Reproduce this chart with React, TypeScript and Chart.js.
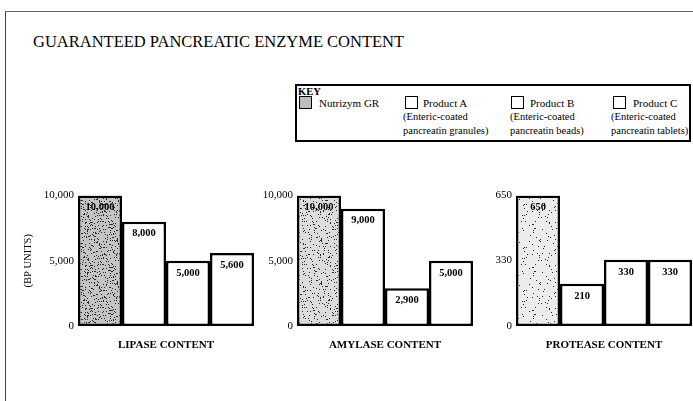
import React, { useEffect, useRef } from "react";
import { Chart, registerables } from "chart.js";

Chart.register(...registerables);

const chartTitle = "GUARANTEED PANCREATIC ENZYME CONTENT";
const products = ["Nutrizym GR", "Product A", "Product B", "Product C"];
const productNotes = [
  [],
  ["(Enteric-coated", "pancreatin granules)"],
  ["(Enteric-coated", "pancreatin beads)"],
  ["(Enteric-coated", "pancreatin tablets)"],
];
const lipaseValues = [10000, 8000, 5000, 5600];
const amylaseValues = [10000, 9000, 2900, 5000];
const proteaseValues = [650, 210, 330, 330];
const lipaseTicks = [0, 5000, 10000];
const amylaseTicks = [0, 5000, 10000];
const proteaseTicks = [0, 330, 650];
const panelTitles = ["LIPASE CONTENT", "AMYLASE CONTENT", "PROTEASE CONTENT"];
const yAxisTitle = "(BP UNITS)";

const FONT = "'Liberation Serif', 'DejaVu Serif', serif";

function makeStipple(base: string, dots: number): CanvasPattern | string {
  const c = document.createElement("canvas");
  c.width = 41;
  c.height = 43;
  const g = c.getContext("2d");
  if (!g) return base;
  g.fillStyle = base;
  g.fillRect(0, 0, 41, 43);
  g.fillStyle = "#2a2a2a";
  for (let i = 0; i < dots; i++) {
    const x = (i * 17 + ((i * i) % 13)) % 41;
    const y = (i * 29 + ((i * i * 7) % 11)) % 43;
    g.fillRect(x, y, 1, 1);
  }
  return g.createPattern(c, "repeat") || base;
}

const valueLabels = {
  id: "valueLabels",
  afterDatasetsDraw(chart: any) {
    const ctx = chart.ctx;
    const meta = chart.getDatasetMeta(0);
    const data = chart.data.datasets[0].data;
    ctx.save();
    ctx.font = `bold 10.5px ${FONT}`;
    ctx.fillStyle = "#000";
    ctx.textAlign = "center";
    ctx.textBaseline = "middle";
    meta.data.forEach((el: any, i: number) => {
      ctx.fillText(Number(data[i]).toLocaleString("en-US"), el.x, el.y + 12);
    });
    ctx.restore();
  },
};

type PanelProps = {
  values: number[];
  ticks: number[];
  title: string;
  left: number;
  yWidth: number;
  showYTitle: boolean;
  stippleBase: string;
  stippleDots: number;
};

const TOP = 185;
const HEIGHT = 171;
const AREA_W = 176;

function Panel(p: PanelProps) {
  const ref = useRef<HTMLCanvasElement | null>(null);
  const width = p.yWidth + AREA_W + 1;
  useEffect(() => {
    if (!ref.current) return;
    const pattern = makeStipple(p.stippleBase, p.stippleDots);
    const max = p.ticks[p.ticks.length - 1];
    const chart = new Chart(ref.current, {
      type: "bar",
      data: {
        labels: products,
        datasets: [
          {
            data: p.values,
            backgroundColor: p.values.map((_, i) => (i === 0 ? pattern : "#ffffff")),
            borderColor: "#000",
            borderWidth: 2.5,
            borderSkipped: false,
            inflateAmount: 0,
            categoryPercentage: 1,
            barPercentage: 1,
          } as any,
        ],
      },
      options: {
        responsive: false,
        animation: false,
        layout: { padding: { top: 10, right: 1, left: 0, bottom: 0 } },
        plugins: { legend: { display: false }, tooltip: { enabled: false } },
        scales: {
          x: {
            grid: { display: false },
            border: { display: false },
            ticks: { display: false },
            title: {
              display: true,
              text: p.title,
              color: "#000",
              font: { family: FONT, size: 11, weight: "bold" },
              padding: { top: 0, bottom: 4 },
            },
            afterFit: (s: any) => {
              s.height = 30;
            },
          },
          y: {
            min: 0,
            max: max,
            grid: { display: false, drawTicks: false },
            border: { display: false },
            afterBuildTicks: (s: any) => {
              s.ticks = p.ticks.map((v) => ({ value: v }));
            },
            ticks: {
              padding: 4,
              color: "#000",
              font: { family: FONT, size: 11 },
              callback: (v: any) => Number(v).toLocaleString("en-US"),
            },
            title: {
              display: p.showYTitle,
              text: yAxisTitle,
              color: "#000",
              font: { family: FONT, size: 10.5 },
              padding: { top: 10, bottom: 0 },
            },
            afterFit: (s: any) => {
              s.width = p.yWidth;
            },
          },
        },
      },
      plugins: [valueLabels],
    } as any);
    return () => chart.destroy();
  }, []);
  return (
    <canvas
      ref={ref}
      width={width}
      height={HEIGHT}
      style={{ position: "absolute", left: p.left, top: TOP, width: width, height: HEIGHT }}
    />
  );
}

const swatchLefts = [299, 405, 511, 613];
const labelLefts = [319, 423, 530, 633];
const noteLefts = [0, 403, 510, 611];

function Legend() {
  return (
    <>
      <div
        style={{
          position: "absolute",
          left: 295,
          top: 84,
          width: 396,
          height: 58,
          border: "2px solid #000",
          boxSizing: "border-box",
        }}
      />
      <div
        style={{
          position: "absolute",
          left: 298,
          top: 86,
          font: `bold 10.5px ${FONT}`,
          lineHeight: "11px",
        }}
      >
        KEY
      </div>
      {products.map((name, i) => (
        <React.Fragment key={name}>
          <div
            style={{
              position: "absolute",
              left: swatchLefts[i],
              top: 96,
              width: 13,
              height: 13,
              border: "1.5px solid #000",
              boxSizing: "border-box",
              background: i === 0 ? "#bdbdbd" : "#fff",
            }}
          />
          <div
            style={{
              position: "absolute",
              left: labelLefts[i],
              top: 97,
              font: `11px ${FONT}`,
              lineHeight: "12px",
              whiteSpace: "nowrap",
            }}
          >
            {name}
          </div>
          {productNotes[i].map((line, j) => (
            <div
              key={j}
              style={{
                position: "absolute",
                left: noteLefts[i],
                top: 111 + j * 14,
                font: `10.5px ${FONT}`,
                lineHeight: "12px",
                whiteSpace: "nowrap",
              }}
            >
              {line}
            </div>
          ))}
        </React.Fragment>
      ))}
    </>
  );
}

export default function App() {
  return (
    <div
      style={{
        position: "absolute",
        left: 0,
        top: 0,
        width: 693,
        height: 401,
        overflow: "hidden",
        background: "#fff",
        color: "#000",
      }}
    >
      <div style={{ position: "absolute", left: 5, top: 11, width: 1, height: 390, background: "#444" }} />
      <div style={{ position: "absolute", left: 5, top: 11, width: 688, height: 1, background: "#666" }} />
      <div
        style={{
          position: "absolute",
          left: 33,
          top: 32,
          font: `16.5px ${FONT}`,
          lineHeight: "20px",
          whiteSpace: "nowrap",
        }}
      >
        {chartTitle}
      </div>
      <Legend />
      <Panel
        values={lipaseValues}
        ticks={lipaseTicks}
        title={panelTitles[0]}
        left={12}
        yWidth={66}
        showYTitle={true}
        stippleBase="#c4c4c4"
        stippleDots={260}
      />
      <Panel
        values={amylaseValues}
        ticks={amylaseTicks}
        title={panelTitles[1]}
        left={257}
        yWidth={40}
        showYTitle={false}
        stippleBase="#dcdcdc"
        stippleDots={160}
      />
      <Panel
        values={proteaseValues}
        ticks={proteaseTicks}
        title={panelTitles[2]}
        left={476}
        yWidth={40}
        showYTitle={false}
        stippleBase="#ececec"
        stippleDots={70}
      />
    </div>
  );
}
